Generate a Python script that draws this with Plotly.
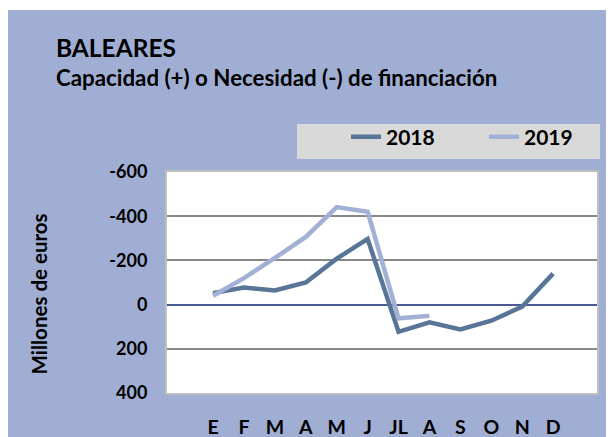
import plotly.graph_objects as go

months = ["E", "F", "M", "A", "M", "J", "JL", "A", "S", "O", "N", "D"]
y2018 = [-52, -77, -64, -100, -208, -297, 123, 80, 112, 73, 9, -140]
y2019 = [-40, -120, -211, -306, -441, -420, 62, 51]
ytick_vals = [-600, -400, -200, 0, 200, 400]
ytick_text = ["-600", "-400", "-200", "0", "200", "400"]

FONT = "Lato"
BG = "#A0AED4"
W, H = 614, 437
L, R, T, B = 159, 25, 164, 52
pw, ph = W - L - R, H - T - B

def px(x):
    return (x - L) / pw

def py(y):
    return (H - B - y) / ph

xs = list(range(len(months)))

fig = go.Figure()
fig.add_trace(go.Scatter(x=xs, y=y2018, mode="lines", name="2018",
                         line=dict(color="#587597", width=4.5)))
fig.add_trace(go.Scatter(x=xs[:len(y2019)], y=y2019, mode="lines", name="2019",
                         line=dict(color="#A3B0D6", width=4.5)))

fig.update_layout(
    width=W, height=H,
    margin=dict(l=L, r=R, t=T, b=B, autoexpand=False),
    paper_bgcolor=BG, plot_bgcolor="white",
    font=dict(family=FONT, color="black"),
    showlegend=True,
    legend=dict(orientation="h", x=px(338), xanchor="left", y=py(129), yanchor="middle",
                bgcolor="rgba(0,0,0,0)", font=dict(family=FONT, size=21, color="black", weight="bold"),
                entrywidth=93, entrywidthmode="pixels", tracegroupgap=0),
    xaxis=dict(range=[-1.49, 12.42], tickmode="array", tickvals=xs, ticktext=months,
               showgrid=False, zeroline=False, ticks="", showline=True, mirror=True,
               linecolor="#BFBFBF", linewidth=2,
               tickfont=dict(family=FONT, size=19.5, color="black", weight="bold"),
               ticklabelstandoff=16),
    yaxis=dict(range=[400, -600], tickmode="array", tickvals=ytick_vals, ticktext=ytick_text,
               showgrid=True, gridcolor="#888888", gridwidth=1.5,
               zeroline=True, zerolinecolor="#4B5A91", zerolinewidth=1.5,
               ticks="", showline=True, mirror=True, linecolor="#BFBFBF", linewidth=2,
               tickfont=dict(family=FONT, size=18, color="black", weight="bold"),
               ticklabelstandoff=14),
    shapes=[
        dict(type="rect", xref="paper", yref="paper", x0=px(0), x1=px(W), y0=py(2), y1=py(0),
             fillcolor="white", line=dict(width=0), layer="above"),
        dict(type="rect", xref="paper", yref="paper", x0=px(289), x1=px(592), y0=py(151), y1=py(116),
             fillcolor="#D9D9D9", line=dict(width=0), layer="below"),
    ],
    annotations=[
        dict(text="<b>BALEARES</b>", xref="paper", yref="paper", x=px(46), y=py(39),
             xanchor="left", yanchor="middle", showarrow=False,
             font=dict(family=FONT, size=24.5, color="black")),
        dict(text="<b>Capacidad (+) o Necesidad (-) de financiación</b>", xref="paper", yref="paper",
             x=px(46), y=py(70), xanchor="left", yanchor="middle", showarrow=False,
             font=dict(family=FONT, size=22.3, color="black")),
        dict(text="<b>Millones de euros</b>", xref="paper", yref="paper", x=px(30.5), y=py(286),
             xanchor="center", yanchor="middle", textangle=-90, showarrow=False,
             font=dict(family=FONT, size=20.5, color="black")),
    ],
)

fig.write_html("out.html")
